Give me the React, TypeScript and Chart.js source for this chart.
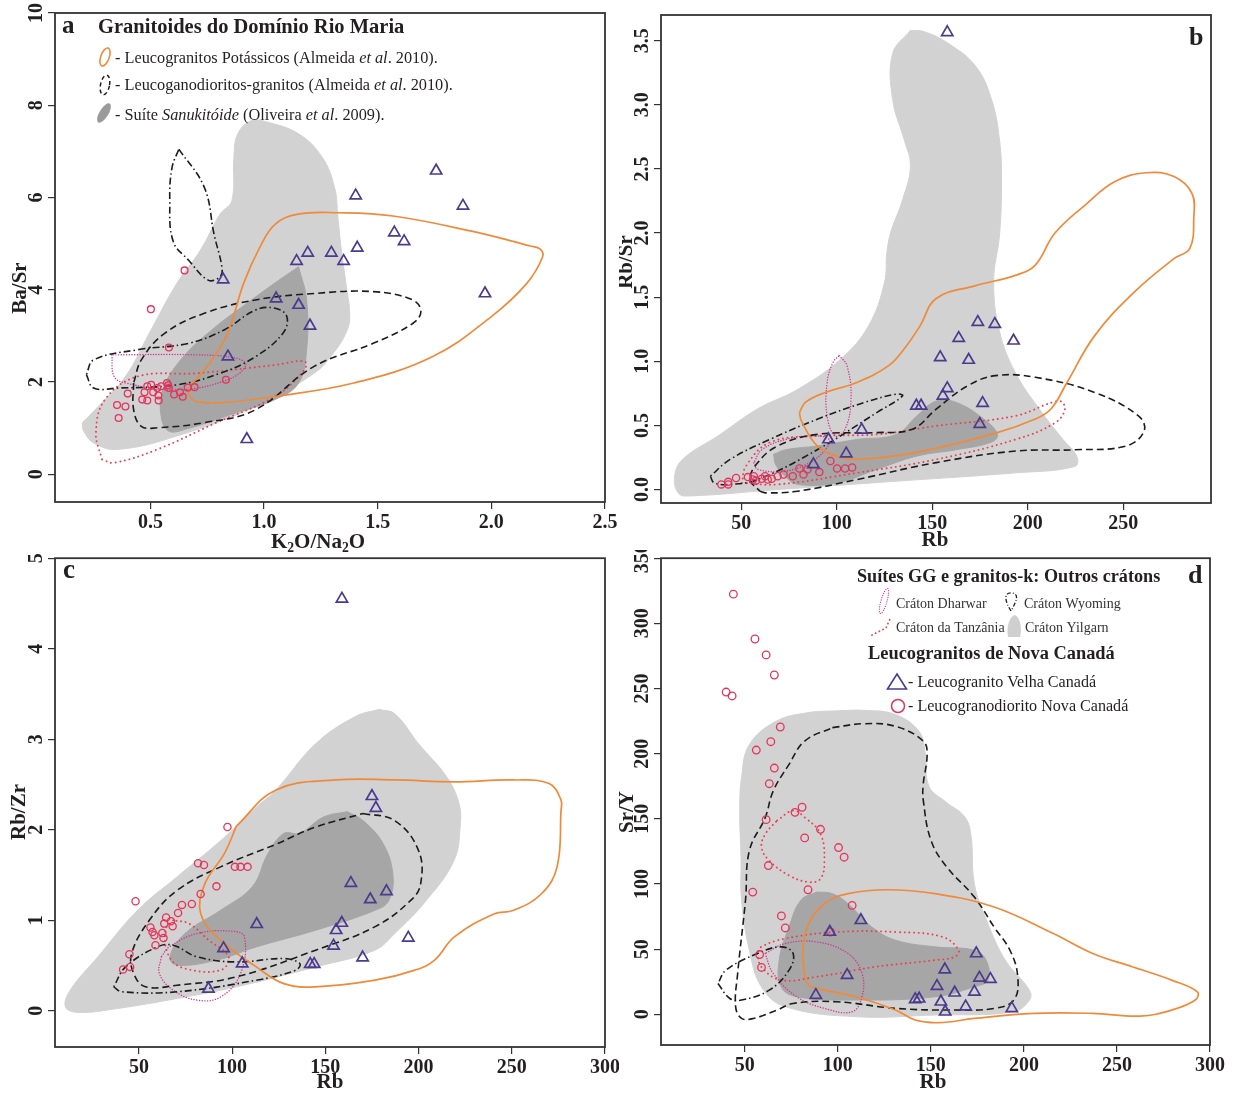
import React, { useEffect, useRef } from "react";
import { Chart, registerables } from "chart.js";

Chart.register(...registerables);

type Pt = [number, number];

const FONT = '"Liberation Serif", "Times New Roman", serif';
const INK = "#231f20";

// ---------------- Panel a : Ba/Sr vs K2O/Na2O ----------------
const A_XTICKS = [0.5, 1.0, 1.5, 2.0, 2.5];
const A_YTICKS = [0, 2, 4, 6, 8, 10];
const A_YILGARN: Pt[] = [[0.20, 1.12], [0.27, 1.47], [0.39, 2.12], [0.495, 3.06], [0.616, 4.14], [0.72, 4.86], [0.806, 5.64], [0.858, 5.93], [0.867, 6.87], [0.884, 7.38], [0.945, 7.67], [1.01, 7.64], [1.152, 7.38], [1.256, 6.87], [1.31, 6.22], [1.325, 5.56], [1.34, 4.86], [1.36, 4.14], [1.377, 3.42], [1.36, 3.06], [1.3, 2.6], [1.22, 2.19], [0.962, 1.47], [0.616, 0.83], [0.356, 0.54], [0.25, 0.68], [0.205, 0.95], [0.20, 1.12]];
const A_SANUK: Pt[] = [[1.152, 4.50], [1.187, 3.78], [1.187, 2.70], [1.152, 1.98], [1.048, 1.62], [0.875, 1.33], [0.65, 0.97], [0.58, 0.94], [0.547, 1.26], [0.555, 1.83], [0.633, 2.48], [0.77, 3.13], [0.945, 3.78], [1.066, 4.21], [1.152, 4.50]];
const A_LEUCOK: Pt[] = [[0.685, 1.98], [0.668, 1.76], [0.702, 1.58], [0.806, 1.55], [1.048, 1.69], [1.394, 1.98], [1.74, 2.55], [2.0, 3.42], [2.156, 4.14], [2.225, 4.71], [2.215, 4.88], [2.17, 4.95], [1.913, 5.27], [1.567, 5.6], [1.325, 5.67], [1.15, 5.64], [1.048, 5.42], [0.98, 4.91], [0.91, 4.14], [0.84, 3.06], [0.77, 2.48], [0.70, 2.05], [0.685, 1.98]];
const A_LEUCOGD: Pt[] = [[0.426, 1.98], [0.426, 1.40], [0.46, 1.04], [0.53, 1.01], [0.737, 1.12], [0.962, 1.40], [1.22, 2.34], [1.48, 2.84], [1.654, 3.27], [1.69, 3.53], [1.654, 3.78], [1.48, 3.96], [1.22, 3.92], [0.962, 3.78], [0.737, 3.49], [0.564, 3.06], [0.46, 2.48], [0.426, 1.98]];
const A_WYO1: Pt[] = [[0.625, 7.05], [0.737, 6.22], [0.78, 5.2], [0.815, 4.47], [0.806, 4.28], [0.754, 4.21], [0.668, 4.64], [0.60, 5.05], [0.585, 5.93], [0.595, 6.65], [0.625, 7.05]];
const A_WYO2: Pt[] = [[0.218, 2.16], [0.25, 1.87], [0.356, 1.87], [0.616, 1.94], [0.806, 2.19], [0.962, 2.55], [1.083, 3.06], [1.10, 3.42], [1.048, 3.6], [0.962, 3.56], [0.824, 3.13], [0.668, 2.84], [0.443, 2.70], [0.25, 2.48], [0.218, 2.16]];
const A_DHARWAR: Pt[] = [[0.33, 2.59], [0.34, 2.12], [0.39, 1.98], [0.616, 1.83], [0.84, 2.05], [0.92, 2.37], [0.875, 2.52], [0.70, 2.59], [0.33, 2.59]];
const A_TANZ: Pt[] = [[0.287, 0.32], [0.34, 0.25], [0.53, 0.54], [0.79, 1.12], [1.048, 1.69], [1.178, 2.27], [1.178, 2.45], [1.048, 2.37], [0.70, 2.19], [0.443, 2.12], [0.30, 1.62], [0.26, 0.9], [0.287, 0.32]];
const A_VELHA: Pt[] = [[1.757, 6.58], [1.403, 6.04], [1.875, 5.82], [1.573, 5.24], [1.616, 5.05], [1.41, 4.91], [1.192, 4.80], [1.296, 4.80], [1.143, 4.62], [1.35, 4.62], [0.82, 4.22], [1.053, 3.81], [1.152, 3.67], [1.202, 3.22], [1.972, 3.92], [0.841, 2.55], [0.924, 0.76]];
const A_NOVA: Pt[] = [[0.65, 4.42], [0.502, 3.58], [0.581, 2.75], [0.832, 2.05], [0.353, 1.50], [0.39, 1.47], [0.36, 1.22], [0.40, 1.75], [0.464, 1.62], [0.486, 1.60], [0.474, 1.78], [0.486, 1.91], [0.503, 1.94], [0.512, 1.78], [0.53, 1.87], [0.535, 1.71], [0.536, 1.60], [0.573, 1.98], [0.581, 1.87], [0.604, 1.73], [0.63, 1.78], [0.642, 1.68], [0.664, 1.88], [0.694, 1.89], [0.547, 1.91], [0.578, 1.93]];

// ---------------- Panel b : Rb/Sr vs Rb ----------------
const B_XTICKS = [50, 100, 150, 200, 250];
const B_YTICKS = [0, 0.5, 1.0, 1.5, 2.0, 2.5, 3.0, 3.5];
const B_YILGARN: Pt[] = [[138.6, 3.58], [129.3, 3.40], [129.3, 3.04], [135.5, 2.72], [138.6, 2.52], [134.5, 2.26], [128.2, 2.0], [126.2, 1.84], [125.1, 1.62], [116.8, 1.28], [102.3, 1.02], [79.5, 0.78], [58.7, 0.63], [38, 0.42], [19.3, 0.235], [15.1, 0.10], [17.2, -0.03], [23.4, -0.05], [69.1, 0.0], [131.3, 0.065], [193.6, 0.13], [224.7, 0.18], [225.7, 0.26], [218.5, 0.39], [206, 0.63], [193.6, 0.91], [185.3, 1.23], [182.2, 1.62], [185.3, 1.99], [186.3, 2.39], [185.3, 2.72], [181.1, 3.04], [172.8, 3.30], [158.3, 3.48], [145.9, 3.57], [138.6, 3.58]];
const B_SANUK: Pt[] = [[67, 0.274], [73.2, 0.31], [89.8, 0.34], [110.6, 0.39], [131.3, 0.43], [141.7, 0.57], [152.1, 0.69], [162.4, 0.68], [177, 0.55], [184.2, 0.43], [181.1, 0.37], [162.4, 0.31], [141.7, 0.26], [121, 0.157], [100.2, 0.052], [79.5, 0.04], [73.2, 0.10], [68, 0.196], [67, 0.274]];
const B_LEUCOK: Pt[] = [[80.5, 0.60], [81.5, 0.535], [89.8, 0.34], [100.2, 0.26], [110.6, 0.235], [141.7, 0.29], [183.2, 0.44], [204, 0.55], [212.3, 0.63], [220.6, 0.835], [235.1, 1.20], [255.8, 1.54], [276.6, 1.80], [284.9, 1.88], [287, 2.125], [286, 2.31], [276.6, 2.44], [262.1, 2.47], [245.5, 2.40], [231, 2.23], [214.3, 2.0], [204, 1.75], [193.6, 1.67], [172.8, 1.59], [152.1, 1.49], [143.8, 1.28], [135.5, 1.10], [127.2, 0.966], [110.6, 0.835], [94, 0.757], [83.6, 0.68], [80.5, 0.60]];
const B_LEUCOGD: Pt[] = [[59.8, -0.013], [62.9, -0.026], [79.5, -0.013], [110.6, 0.078], [152.1, 0.21], [193.6, 0.30], [224.7, 0.31], [251.7, 0.34], [261, 0.457], [258, 0.574], [235.1, 0.757], [204, 0.875], [183.2, 0.888], [168.7, 0.81], [152.1, 0.627], [139.6, 0.47], [121, 0.444], [89.8, 0.43], [69.1, 0.34], [58.7, 0.21], [54.6, 0.078], [59.8, -0.013]];
const B_WYO: Pt[] = [[33.8, 0.104], [35.9, 0.052], [44.2, 0.04], [58.7, 0.078], [89.8, 0.31], [121, 0.60], [134.5, 0.73], [131.3, 0.744], [114.8, 0.68], [89.8, 0.548], [64.9, 0.39], [44.2, 0.235], [33.8, 0.104]];
const B_DHARWAR1: Pt[] = [[101.3, 1.044], [105.4, 0.966], [107.5, 0.705], [104.4, 0.47], [99.2, 0.418], [95, 0.574], [95, 0.836], [98.1, 0.992], [101.3, 1.044]];
const B_DHARWAR2: Pt[] = [[56.6, 0.209], [58.7, 0.157], [73.2, 0.144], [85.7, 0.209], [94, 0.31], [96.1, 0.39], [87.8, 0.418], [73.2, 0.39], [60.8, 0.31], [56.6, 0.209]];
const B_TANZ: Pt[] = [[50.4, 0.052], [69.1, 0.04], [110.6, 0.13], [152.1, 0.235], [193.6, 0.39], [214.3, 0.52], [219.5, 0.627], [216.4, 0.69], [193.6, 0.574], [152.1, 0.496], [121, 0.43], [89.8, 0.418], [64.9, 0.366], [52.5, 0.183], [50.4, 0.052]];
const B_VELHA: Pt[] = [[157.9, 3.565], [173.9, 1.305], [182.8, 1.29], [163.9, 1.18], [192.6, 1.16], [154.2, 1.03], [169.1, 1.01], [157.9, 0.789], [155.6, 0.73], [176.4, 0.674], [141.7, 0.653], [144.2, 0.653], [174.9, 0.51], [113.1, 0.465], [95.7, 0.39], [105, 0.28], [87.8, 0.196]];
const B_NOVA: Pt[] = [[39.6, 0.04], [43.2, 0.06], [43.2, 0.04], [47.3, 0.09], [53.5, 0.097], [56.2, 0.078], [57.7, 0.068], [60.8, 0.084], [62.5, 0.104], [63.9, 0.078], [66, 0.084], [69.1, 0.104], [72.2, 0.117], [77, 0.104], [80.5, 0.164], [82.6, 0.117], [84.7, 0.157], [90.9, 0.136], [96.7, 0.222], [100.2, 0.164], [104.4, 0.164], [108.1, 0.172], [56.6, 0.104]];

// ---------------- Panel c : Rb/Zr vs Rb ----------------
const C_XTICKS = [50, 100, 150, 200, 250, 300];
const C_YTICKS = [0, 1, 2, 3, 4, 5];
const C_YILGARN: Pt[] = [[178.8, 3.33], [166, 3.25], [144.8, 2.95], [123.5, 2.44], [113, 2.25], [93.9, 1.88], [70.5, 1.48], [49.3, 1.11], [28, 0.596], [13.2, 0.228], [10.6, 0.044], [17.4, -0.018], [38.6, 0.026], [70.5, 0.136], [102.4, 0.265], [144.8, 0.485], [176.6, 0.67], [187.2, 0.853], [204.2, 1.22], [219, 1.66], [222.3, 2.03], [221.7, 2.29], [214.9, 2.59], [200, 2.95], [187.3, 3.28], [178.8, 3.33]];
const C_SANUK: Pt[] = [[161.8, 2.2], [170.3, 2.10], [180.9, 1.85], [186.2, 1.51], [184.1, 1.22], [176.7, 1.11], [144.8, 0.89], [113, 0.706], [91.7, 0.56], [70.5, 0.504], [66.6, 0.596], [74.7, 0.853], [93.8, 1.11], [110.8, 1.37], [119.3, 1.74], [127.8, 1.96], [136.3, 1.96], [149, 2.14], [161.8, 2.2]];
const C_LEUCOK: Pt[] = [[102.3, 2.04], [123.5, 2.44], [155.5, 2.55], [187.3, 2.55], [219.2, 2.53], [251, 2.55], [270, 2.51], [276.4, 2.33], [276.4, 2.21], [274.3, 1.59], [265.8, 1.29], [251, 1.11], [240.4, 1.07], [219.2, 0.816], [208.6, 0.559], [198, 0.449], [176.7, 0.338], [144.8, 0.265], [127.8, 0.30], [113, 0.485], [93.8, 0.78], [83.2, 1.07], [85.3, 1.40], [95.9, 1.74], [102.3, 2.04]];
const C_LEUCOGD: Pt[] = [[170.3, 2.18], [187.3, 2.10], [200, 1.77], [201.1, 1.40], [195.8, 1.22], [176.7, 0.93], [144.8, 0.67], [102.4, 0.375], [70.5, 0.283], [53.5, 0.265], [47.2, 0.412], [46.1, 0.632], [55.6, 1.0], [70.5, 1.33], [93.8, 1.59], [123.5, 1.84], [144.8, 2.03], [170.3, 2.18]];
const C_WYO: Pt[] = [[36.5, 0.265], [40.8, 0.21], [70.5, 0.21], [113, 0.338], [134.2, 0.449], [136.3, 0.522], [127.8, 0.577], [102.4, 0.54], [81.2, 0.596], [68.4, 0.724], [59.9, 0.706], [42.9, 0.485], [36.5, 0.265]];
const C_DHARWAR: Pt[] = [[62, 0.596], [61, 0.412], [68.4, 0.228], [81.2, 0.118], [93.9, 0.154], [104.5, 0.412], [106.6, 0.816], [100.2, 0.879], [81.2, 0.853], [66.3, 0.706], [62, 0.596]];
const C_TANZ: Pt[] = [[68.4, 1.0], [64.2, 0.89], [66.3, 0.596], [74.8, 0.467], [93.9, 0.449], [98.1, 0.596], [87.5, 0.78], [76.9, 0.963], [68.4, 1.0]];
const C_VELHA: Pt[] = [[158.9, 4.55], [175, 2.37], [177.1, 2.24], [163.7, 1.41], [182.8, 1.32], [174.1, 1.23], [158.8, 0.97], [155.8, 0.89], [113.2, 0.956], [194.5, 0.805], [154.4, 0.717], [95.4, 0.69], [170, 0.588], [105.4, 0.522], [141.9, 0.515], [144, 0.515], [87.3, 0.243]];
const C_NOVA: Pt[] = [[97.5, 2.03], [81.7, 1.63], [84.9, 1.61], [101.5, 1.59], [104.5, 1.59], [108.3, 1.59], [91.6, 1.375], [83.1, 1.29], [48.2, 1.21], [78.4, 1.18], [73.1, 1.17], [71, 1.08], [64.6, 1.03], [67.2, 0.99], [63.6, 0.963], [56.2, 0.92], [57.3, 0.87], [58.3, 0.835], [62.6, 0.86], [63.2, 0.805], [58.9, 0.724], [68.1, 0.934], [44.9, 0.625], [41.5, 0.456], [45.3, 0.485]];

// ---------------- Panel d : Sr/Y vs Rb ----------------
const D_XTICKS = [50, 100, 150, 200, 250, 300];
const D_YTICKS = [0, 50, 100, 150, 200, 250, 300, 350];
const D_YILGARN: Pt[] = [[101, 233], [84, 231.5], [67, 225], [52.5, 207], [48.3, 182], [47.3, 156], [48, 120], [48.3, 87.5], [52.5, 49], [59, 21], [71.6, 6], [110, -1.8], [152, -0.5], [194.5, 2], [203, 11], [203, 18.6], [190, 41.6], [180, 72], [173.4, 100], [171.5, 138], [168, 152], [158, 163], [149, 175], [147, 200], [143.7, 217], [131, 230], [114, 233.3], [101, 233]];
const D_SANUK: Pt[] = [[88.6, 93.8], [97.1, 92.6], [105.5, 84.9], [118.3, 67], [131, 56.9], [152.2, 51.8], [173.4, 49.2], [179.7, 41.6], [180.7, 26.3], [173.4, 21.2], [152.2, 13.5], [109.8, 11], [78, 13.5], [69.5, 21.2], [68.5, 41.6], [73.8, 67], [80.1, 87.5], [88.6, 93.8]];
const D_LEUCOK: Pt[] = [[82.2, 28.8], [81.2, 49.2], [84.4, 69.6], [92.8, 84.9], [105.5, 92.6], [126.7, 95.6], [152.2, 92.6], [184, 82.4], [215.8, 62], [237, 46.7], [258.2, 36.5], [279.4, 26.3], [293.2, 17.3], [292.1, 11], [279.4, 3.3], [262.4, -1.3], [237, 0.8], [205.2, 0.8], [173.4, -3.1], [154.3, -6.4], [141.6, -4.3], [131, 3.3], [109.8, 13.5], [92.8, 18.6], [84.4, 22.4], [82.2, 28.8]];
const D_LEUCOGD: Pt[] = [[97.1, 220], [114, 223], [131, 221], [145.9, 209.7], [148, 199.5], [145.9, 176.4], [145.9, 164.6], [150.1, 133.4], [158.6, 113], [173.4, 90], [184, 67], [192.5, 49.2], [196.7, 28.8], [194.6, 11], [184, 4.6], [162.8, 3.3], [131, 4.6], [99.2, 9.7], [75.9, 8.4], [67.4, 3.3], [54.7, -3.1], [48.3, -3.1], [45.1, 5.9], [46.2, 31.4], [50.4, 87.5], [52.5, 125.7], [61, 151], [65.3, 171.4], [73.8, 191.8], [82.2, 209.7], [97.1, 220]];
const D_WYO: Pt[] = [[35.6, 23.7], [42, 12.2], [48.3, 11], [63.2, 18.6], [73.8, 33.9], [76, 46.7], [69.5, 51.8], [56.8, 46.7], [39.9, 33.9], [35.6, 23.7]];
const D_DHARWAR: Pt[] = [[61, 46.7], [65.3, 31.4], [78, 13.5], [92.8, 4.6], [107.7, 2], [113, 13.5], [113, 31.4], [105.5, 46.7], [88.6, 55.6], [71.6, 54.3], [61, 46.7]];
const D_TANZ1: Pt[] = [[67.4, 148.7], [75.9, 156.3], [82.2, 151.2], [90.7, 138.5], [92.8, 118], [90.7, 104], [84.4, 101.5], [73.8, 106.6], [63.2, 118], [59, 128.3], [61.1, 138.5], [67.4, 148.7]];
const D_TANZ2: Pt[] = [[56.8, 46.7], [58.9, 36.5], [69.5, 26.3], [88.6, 28.8], [120.4, 36.5], [152.2, 41.6], [162.8, 44.1], [164.9, 49.2], [156.4, 59.4], [131, 63.2], [99.2, 63.2], [71.6, 58.1], [58.9, 51.8], [56.8, 46.7]];
const D_VELHA: Pt[] = [[112.4, 72.2], [95.7, 63.2], [174.4, 46.7], [105, 30.1], [157.5, 34.4], [176.1, 28], [182, 27], [153.3, 21.7], [162.8, 16.6], [173.4, 17.3], [88.2, 14.8], [141.6, 11.5], [143.7, 12], [155.4, 9.7], [168.7, 5.9], [157.7, 2], [193.5, 4.6]];
const D_NOVA: Pt[] = [[43.9, 322.4], [55.5, 288], [61.5, 275.8], [65.9, 260.4], [40, 247.3], [43.2, 244.3], [69.1, 220.5], [56.2, 202.8], [64, 209.2], [65.9, 189], [63.2, 177], [61.5, 149.4], [77, 155], [80.8, 158.9], [90.7, 142], [82.2, 135.4], [100.4, 128], [103.4, 120.6], [62.7, 114.2], [84, 95.6], [54.3, 93.8], [107.7, 83.6], [69.7, 75.5], [71.8, 66.3], [96.1, 63.2], [58, 45.9], [59, 36]];

// ---------------- styling helpers ----------------
type Kind = "yilgarn" | "sanuk" | "leucok" | "leucogd" | "wyo" | "dhar" | "tanz";

const COLORS = {
  yilgarn: "#d2d2d2",
  sanuk: "#a6a6a6",
  orange: "#ef8a3a",
  black: "#1c1c1c",
  magenta: "#d4308e",
  red: "#e8404e",
  purple: "#4b3b8f",
  pink: "#e5335a",
};

const STYLE: Record<Kind, any> = {
  yilgarn: { fill: "shape", backgroundColor: COLORS.yilgarn, borderColor: COLORS.yilgarn, borderWidth: 1, order: 20 },
  sanuk: { fill: "shape", backgroundColor: COLORS.sanuk, borderColor: COLORS.sanuk, borderWidth: 1, order: 19 },
  leucok: { fill: false, borderColor: COLORS.orange, borderWidth: 1.7, order: 10 },
  leucogd: { fill: false, borderColor: COLORS.black, borderWidth: 1.6, borderDash: [7, 4], order: 11 },
  wyo: { fill: false, borderColor: COLORS.black, borderWidth: 1.6, borderDash: [7, 3, 1.5, 3], order: 12 },
  dhar: { fill: false, borderColor: COLORS.magenta, borderWidth: 1.4, borderDash: [0.1, 2.6], borderCapStyle: "round", order: 13 },
  tanz: { fill: false, borderColor: COLORS.red, borderWidth: 1.9, borderDash: [0.1, 4.6], borderCapStyle: "round", order: 14 },
};

const toXY = (d: Pt[]) => d.map(([x, y]) => ({ x, y }));

function field(data: Pt[], kind: Kind) {
  return {
    data: toXY(data),
    showLine: true,
    tension: 0.4,
    pointRadius: 0,
    pointHoverRadius: 0,
    ...STYLE[kind],
  };
}

function velha(data: Pt[]) {
  return {
    data: toXY(data),
    showLine: false,
    pointStyle: "triangle",
    pointRadius: 6.5,
    borderColor: COLORS.purple,
    backgroundColor: "rgba(0,0,0,0)",
    borderWidth: 1.7,
    order: 1,
  };
}

function nova(data: Pt[], r: number) {
  return {
    data: toXY(data),
    showLine: false,
    pointStyle: "circle",
    pointRadius: r,
    borderColor: COLORS.pink,
    backgroundColor: "rgba(0,0,0,0)",
    borderWidth: 1.3,
    order: 2,
  };
}

type Part = { t: string; i?: boolean; b?: boolean; sub?: boolean };

function rich(ctx: CanvasRenderingContext2D, x: number, y: number, parts: Part[], size: number, bold = false, align: "left" | "center" = "left") {
  const fontOf = (p: Part) => {
    const it = p.i ? "italic " : "";
    const b = (p.b ?? bold) ? "bold " : "";
    const sz = p.sub ? size * 0.65 : size;
    return `${it}${b}${sz}px ${FONT}`;
  };
  let w = 0;
  for (const p of parts) {
    ctx.font = fontOf(p);
    w += ctx.measureText(p.t).width;
  }
  let cx = align === "center" ? x - w / 2 : x;
  ctx.textAlign = "left";
  for (const p of parts) {
    ctx.font = fontOf(p);
    ctx.fillText(p.t, cx, y + (p.sub ? size * 0.28 : 0));
    cx += ctx.measureText(p.t).width;
  }
}

function ellipse(ctx: CanvasRenderingContext2D, cx: number, cy: number, rx: number, ry: number, rot: number, stroke: string | null, fill: string | null, width = 1.5, dash: number[] = [], cap: CanvasLineCap = "butt") {
  ctx.save();
  ctx.beginPath();
  ctx.ellipse(cx, cy, rx, ry, rot, 0, Math.PI * 2);
  if (fill) {
    ctx.fillStyle = fill;
    ctx.fill();
  }
  if (stroke) {
    ctx.strokeStyle = stroke;
    ctx.lineWidth = width;
    ctx.lineCap = cap;
    ctx.setLineDash(dash);
    ctx.stroke();
  }
  ctx.restore();
}

function decorA(ctx: CanvasRenderingContext2D) {
  ctx.fillStyle = INK;
  ctx.textBaseline = "alphabetic";
  rich(ctx, 62, 33, [{ t: "a" }], 25, true);
  rich(ctx, 98, 33, [{ t: "Granitoides do Domínio Rio Maria" }], 20.5, true);
  ellipse(ctx, 105, 57, 4.2, 9.5, 0.35, COLORS.orange, null, 1.6);
  rich(ctx, 115, 63, [{ t: "- Leucogranitos Potássicos (Almeida " }, { t: "et al", i: true }, { t: ". 2010)." }], 16.3);
  ellipse(ctx, 105, 85, 4.5, 10, 0.2, COLORS.black, null, 1.5, [4, 3]);
  rich(ctx, 115, 90, [{ t: "- Leucoganodioritos-granitos (Almeida " }, { t: "et al", i: true }, { t: ". 2010)." }], 16.3);
  ellipse(ctx, 104, 113, 4.5, 11, 0.55, null, "#9a9a9a");
  rich(ctx, 115, 120, [{ t: "- Suíte " }, { t: "Sanukitóide", i: true }, { t: " (Oliveira " }, { t: "et al", i: true }, { t: ". 2009)." }], 16.3);
}

function decorB(ctx: CanvasRenderingContext2D) {
  ctx.fillStyle = INK;
  ctx.textBaseline = "alphabetic";
  rich(ctx, 1189, 45, [{ t: "b" }], 26, true);
}

function decorC(ctx: CanvasRenderingContext2D) {
  ctx.fillStyle = INK;
  ctx.textBaseline = "alphabetic";
  rich(ctx, 63, 578, [{ t: "c" }], 27, true);
}

function decorD(ctx: CanvasRenderingContext2D) {
  ctx.fillStyle = INK;
  ctx.textBaseline = "alphabetic";
  rich(ctx, 1188, 583, [{ t: "d" }], 26, true);
  rich(ctx, 857, 582, [{ t: "Suítes GG e granitos-k: Outros crátons" }], 18.2, true);
  // Dharwar icon
  ellipse(ctx, 884, 601, 3, 13, 0.28, COLORS.magenta, null, 1.2, [0.1, 2.2], "round");
  ctx.fillStyle = "#333";
  rich(ctx, 896, 608, [{ t: "Cráton Dharwar" }], 14);
  // Wyoming icon
  ctx.save();
  ctx.strokeStyle = COLORS.black;
  ctx.lineWidth = 1.3;
  ctx.setLineDash([4, 2, 1, 2]);
  ctx.beginPath();
  ctx.moveTo(1011, 611);
  ctx.bezierCurveTo(1004, 600, 1004, 592, 1012, 593);
  ctx.bezierCurveTo(1020, 594, 1016, 602, 1011, 611);
  ctx.stroke();
  ctx.restore();
  rich(ctx, 1024, 608, [{ t: "Cráton Wyoming" }], 14);
  // Tanzania icon
  ctx.save();
  ctx.strokeStyle = COLORS.red;
  ctx.lineWidth = 1.8;
  ctx.lineCap = "round";
  ctx.setLineDash([0.1, 4]);
  ctx.beginPath();
  ctx.moveTo(872, 635);
  ctx.lineTo(886, 628);
  ctx.lineTo(890, 619);
  ctx.stroke();
  ctx.restore();
  ctx.fillStyle = "#333";
  rich(ctx, 896, 632, [{ t: "Cráton da Tanzânia" }], 14);
  // Yilgarn icon
  ctx.save();
  ctx.fillStyle = "#cfcfcf";
  ctx.beginPath();
  ctx.moveTo(1008, 637);
  ctx.bezierCurveTo(1006, 626, 1010, 616, 1015, 615);
  ctx.bezierCurveTo(1021, 618, 1022, 630, 1020, 637);
  ctx.closePath();
  ctx.fill();
  ctx.restore();
  ctx.fillStyle = "#333";
  rich(ctx, 1025, 632, [{ t: "Cráton Yilgarn" }], 14);
  ctx.fillStyle = INK;
  rich(ctx, 868, 659, [{ t: "Leucogranitos de Nova Canadá" }], 18.4, true);
  // triangle icon
  ctx.save();
  ctx.strokeStyle = COLORS.purple;
  ctx.lineWidth = 1.6;
  ctx.beginPath();
  ctx.moveTo(897, 674);
  ctx.lineTo(906.5, 689);
  ctx.lineTo(887.5, 689);
  ctx.closePath();
  ctx.stroke();
  ctx.restore();
  ctx.fillStyle = INK;
  rich(ctx, 908, 687, [{ t: "- Leucogranito Velha Canadá" }], 16.1);
  ellipse(ctx, 898, 706, 6.5, 6.5, 0, COLORS.pink, null, 1.5);
  rich(ctx, 908, 711, [{ t: "- Leucogranodiorito Nova Canadá" }], 16.1);
}

interface Spec {
  canvas: { x: number; y: number; w: number; h: number };
  area: { l: number; t: number; r: number; b: number };
  xMin: number; xMax: number; yMin: number; yMax: number;
  xTicks: number[]; yTicks: number[];
  xFmt: (v: number) => string; yFmt: (v: number) => string;
  xTitle: Part[]; xTitlePos: [number, number];
  yTitle: Part[]; yTitlePos: [number, number];
  datasets: any[];
  decorate: (ctx: CanvasRenderingContext2D) => void;
}

const SPECS: Spec[] = [
  {
    canvas: { x: 0, y: 0, w: 619, h: 556 },
    area: { l: 55, t: 13, r: 605, b: 502 },
    xMin: 0.08, xMax: 2.5, yMin: -0.6, yMax: 10,
    xTicks: A_XTICKS, yTicks: A_YTICKS,
    xFmt: (v) => v.toFixed(1), yFmt: (v) => String(v),
    xTitle: [{ t: "K" }, { t: "2", sub: true }, { t: "O/Na" }, { t: "2", sub: true }, { t: "O" }], xTitlePos: [318, 543],
    yTitle: [{ t: "Ba/Sr" }], yTitlePos: [21, 288],
    datasets: [
      velha(A_VELHA), nova(A_NOVA, 3.4),
      field(A_TANZ, "tanz"), field(A_DHARWAR, "dhar"), field(A_WYO1, "wyo"), field(A_WYO2, "wyo"),
      field(A_LEUCOGD, "leucogd"), field(A_LEUCOK, "leucok"),
      field(A_SANUK, "sanuk"), field(A_YILGARN, "yilgarn"),
    ],
    decorate: decorA,
  },
  {
    canvas: { x: 619, y: 0, w: 619, h: 556 },
    area: { l: 661, t: 15, r: 1211, b: 503 },
    xMin: 8, xMax: 296, yMin: -0.105, yMax: 3.7,
    xTicks: B_XTICKS, yTicks: B_YTICKS,
    xFmt: (v) => String(v), yFmt: (v) => v.toFixed(1),
    xTitle: [{ t: "Rb" }], xTitlePos: [935, 541],
    yTitle: [{ t: "Rb/Sr" }], yTitlePos: [627, 262],
    datasets: [
      velha(B_VELHA), nova(B_NOVA, 3.6),
      field(B_TANZ, "tanz"), field(B_DHARWAR1, "dhar"), field(B_DHARWAR2, "dhar"), field(B_WYO, "wyo"),
      field(B_LEUCOGD, "leucogd"), field(B_LEUCOK, "leucok"),
      field(B_SANUK, "sanuk"), field(B_YILGARN, "yilgarn"),
    ],
    decorate: decorB,
  },
  {
    canvas: { x: 0, y: 550, w: 619, h: 545 },
    area: { l: 55, t: 557, r: 605, b: 1047 },
    xMin: 5, xMax: 300, yMin: -0.4, yMax: 5,
    xTicks: C_XTICKS, yTicks: C_YTICKS,
    xFmt: (v) => String(v), yFmt: (v) => String(v),
    xTitle: [{ t: "Rb" }], xTitlePos: [330, 1083],
    yTitle: [{ t: "Rb/Zr" }], yTitlePos: [20, 812],
    datasets: [
      velha(C_VELHA), nova(C_NOVA, 3.6),
      field(C_TANZ, "tanz"), field(C_DHARWAR, "dhar"), field(C_WYO, "wyo"),
      field(C_LEUCOGD, "leucogd"), field(C_LEUCOK, "leucok"),
      field(C_SANUK, "sanuk"), field(C_YILGARN, "yilgarn"),
    ],
    decorate: decorC,
  },
  {
    canvas: { x: 619, y: 550, w: 619, h: 545 },
    area: { l: 661, t: 557, r: 1210, b: 1045 },
    xMin: 5, xMax: 300, yMin: -23.5, yMax: 350,
    xTicks: D_XTICKS, yTicks: D_YTICKS,
    xFmt: (v) => String(v), yFmt: (v) => String(v),
    xTitle: [{ t: "Rb" }], xTitlePos: [933, 1083],
    yTitle: [{ t: "Sr/Y" }], yTitlePos: [628, 812],
    datasets: [
      velha(D_VELHA), nova(D_NOVA, 3.8),
      field(D_TANZ1, "tanz"), field(D_TANZ2, "tanz"), field(D_DHARWAR, "dhar"), field(D_WYO, "wyo"),
      field(D_LEUCOGD, "leucogd"), field(D_LEUCOK, "leucok"),
      field(D_SANUK, "sanuk"), field(D_YILGARN, "yilgarn"),
    ],
    decorate: decorD,
  },
];

function buildChart(canvas: HTMLCanvasElement, s: Spec) {
  const { x: ox, y: oy, w: cw, h: ch } = s.canvas;
  const aL = s.area.l - ox;
  const aT = s.area.t - oy;
  const aR = s.area.r - ox;
  const aB = s.area.b - oy;
  const tickFont = { family: FONT, size: 20, weight: "bold" as const };
  const grid = { drawOnChartArea: false, drawTicks: true, tickLength: 7, color: "#333", lineWidth: 1.2 };

  const deco = {
    id: "deco",
    afterDraw(chart: any) {
      const ctx: CanvasRenderingContext2D = chart.ctx;
      const a = chart.chartArea;
      ctx.save();
      // frame
      ctx.strokeStyle = "#333";
      ctx.lineWidth = 1.8;
      ctx.setLineDash([]);
      ctx.strokeRect(a.left, a.top, a.right - a.left, a.bottom - a.top);
      // rotated y tick labels
      const ys = chart.scales.y;
      ctx.fillStyle = INK;
      ctx.font = `bold 20px ${FONT}`;
      ctx.textAlign = "center";
      ctx.textBaseline = "middle";
      for (const t of ys.ticks) {
        const py = ys.getPixelForValue(t.value);
        ctx.save();
        ctx.translate(a.left - 19, py);
        ctx.rotate(-Math.PI / 2);
        ctx.fillText(s.yFmt(t.value), 0, 1);
        ctx.restore();
      }
      ctx.translate(-ox, -oy);
      // y title
      ctx.save();
      ctx.translate(s.yTitlePos[0], s.yTitlePos[1]);
      ctx.rotate(-Math.PI / 2);
      ctx.textBaseline = "middle";
      rich(ctx, 0, 0, s.yTitle, 21, true, "center");
      ctx.restore();
      // x title
      ctx.textBaseline = "middle";
      rich(ctx, s.xTitlePos[0], s.xTitlePos[1], s.xTitle, 21, true, "center");
      s.decorate(ctx);
      ctx.restore();
    },
  };

  return new Chart(canvas, {
    type: "scatter",
    data: { datasets: s.datasets },
    options: {
      animation: false,
      responsive: false,
      devicePixelRatio: 1,
      events: [],
      layout: { padding: { top: aT, right: cw - aR, left: 0, bottom: 0 } },
      plugins: { legend: { display: false }, tooltip: { enabled: false } },
      scales: {
        x: {
          type: "linear",
          min: s.xMin,
          max: s.xMax,
          afterBuildTicks: (sc: any) => {
            sc.ticks = s.xTicks.map((v) => ({ value: v }));
          },
          afterFit: (sc: any) => {
            sc.height = ch - aB;
            sc.paddingLeft = 0;
            sc.paddingRight = 0;
          },
          ticks: {
            autoSkip: false,
            maxRotation: 0,
            minRotation: 0,
            padding: 2,
            color: INK,
            font: tickFont,
            callback: (v: any) => s.xFmt(Number(v)),
          },
          grid,
          border: { display: false },
        },
        y: {
          type: "linear",
          min: s.yMin,
          max: s.yMax,
          afterBuildTicks: (sc: any) => {
            sc.ticks = s.yTicks.map((v) => ({ value: v }));
          },
          afterFit: (sc: any) => {
            sc.width = aL;
            sc.paddingTop = 0;
            sc.paddingBottom = 0;
          },
          ticks: {
            color: "rgba(0,0,0,0)",
            font: tickFont,
            callback: (v: any) => s.yFmt(Number(v)),
          },
          grid,
          border: { display: false },
        },
      },
    } as any,
    plugins: [deco],
  } as any);
}

function Panel({ spec }: { spec: Spec }) {
  const ref = useRef<HTMLCanvasElement | null>(null);
  useEffect(() => {
    if (!ref.current) return;
    const chart = buildChart(ref.current, spec);
    return () => chart.destroy();
  }, [spec]);
  return (
    <canvas
      ref={ref}
      width={spec.canvas.w}
      height={spec.canvas.h}
      style={{ position: "absolute", left: spec.canvas.x, top: spec.canvas.y, width: spec.canvas.w, height: spec.canvas.h }}
    />
  );
}

export default function App() {
  return (
    <div style={{ position: "absolute", left: 0, top: 0, width: 1238, height: 1095, background: "#ffffff", overflow: "hidden" }}>
      {SPECS.map((s, i) => (
        <Panel key={i} spec={s} />
      ))}
    </div>
  );
}
